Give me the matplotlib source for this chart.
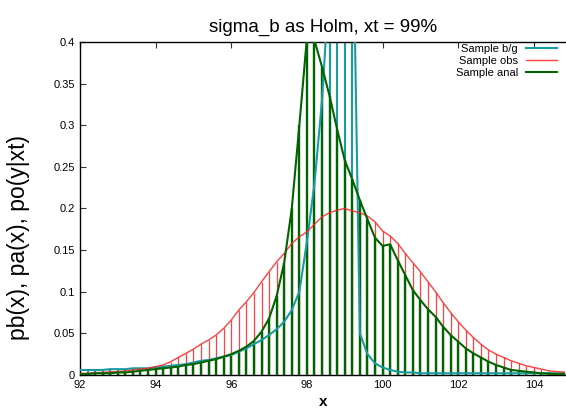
import numpy as np
import matplotlib
matplotlib.use("Agg")
import matplotlib.pyplot as plt

# x grid (step 0.2 from 92 to 104.8)
x = np.round(np.arange(92.0, 104.81, 0.2), 1)

# Sample b/g
bg = [0.006, 0.006, 0.006, 0.006, 0.007, 0.007, 0.007, 0.008, 0.008, 0.008,
      0.009, 0.010, 0.011, 0.012, 0.013, 0.015, 0.017, 0.018, 0.020, 0.022,
      0.024, 0.028, 0.032, 0.037, 0.042, 0.048, 0.055, 0.064, 0.078, 0.100,
      0.160, 0.230, 0.330, 0.480, 0.620, 0.700, 0.600, 0.050, 0.025, 0.014,
      0.009, 0.006, 0.004, 0.003, 0.003, 0.002, 0.002, 0.002, 0.002, 0.002,
      0.002, 0.002, 0.002, 0.002, 0.002, 0.002, 0.002, 0.002, 0.002, 0.002,
      0.002, 0.002, 0.002, 0.002, 0.002]

# Sample obs
obs = [0.002, 0.002, 0.003, 0.003, 0.004, 0.004, 0.005, 0.006, 0.007, 0.008,
       0.010, 0.012, 0.016, 0.021, 0.026, 0.031, 0.037, 0.042, 0.048, 0.056,
       0.066, 0.078, 0.088, 0.099, 0.112, 0.124, 0.136, 0.146, 0.158, 0.166,
       0.172, 0.181, 0.190, 0.195, 0.198, 0.200, 0.197, 0.195, 0.191, 0.184,
       0.173, 0.167, 0.158, 0.146, 0.135, 0.124, 0.112, 0.100, 0.087, 0.075,
       0.064, 0.054, 0.045, 0.037, 0.030, 0.025, 0.021, 0.017, 0.014, 0.011,
       0.009, 0.007, 0.005, 0.004, 0.0035]

# Sample anal
anal = [0.001, 0.001, 0.002, 0.002, 0.002, 0.003, 0.003, 0.004, 0.005, 0.006,
        0.007, 0.008, 0.009, 0.010, 0.012, 0.013, 0.015, 0.017, 0.019, 0.022,
        0.025, 0.029, 0.034, 0.041, 0.052, 0.068, 0.095, 0.135, 0.200, 0.300,
        0.405, 0.402, 0.370, 0.335, 0.295, 0.258, 0.235, 0.210, 0.187, 0.165,
        0.155, 0.157, 0.138, 0.120, 0.102, 0.090, 0.079, 0.070, 0.058, 0.048,
        0.040, 0.032, 0.026, 0.021, 0.016, 0.012, 0.009, 0.006, 0.005, 0.004,
        0.003, 0.002, 0.0015, 0.001, 0.001]

plt.rcParams['font.family'] = ['Liberation Sans', 'DejaVu Sans']

c_bg = '#1a9ba3'
c_obs = '#ff2020'
c_an = '#006400'

fig = plt.figure(figsize=(5.66, 4.08), dpi=100)
ax = fig.add_axes([0.1413, 0.081, 0.8587, 0.816])

# impulses
ax.vlines(x, 0, bg, colors=c_bg, linewidth=1.5, zorder=1)
ax.vlines(x, 0, obs, colors=c_obs, linewidth=0.9, alpha=0.85, zorder=2)
ax.vlines(x, 0, anal, colors=c_an, linewidth=1.7, zorder=3)

# lines
ax.plot(x, bg, color=c_bg, linewidth=1.5, label='Sample b/g', zorder=4)
ax.plot(x, obs, color=c_obs, linewidth=1.0, alpha=0.85, label='Sample obs', zorder=5)
ax.plot(x, anal, color=c_an, linewidth=1.5, label='Sample anal', zorder=6)

ax.set_xlim(92, 104.85)
ax.set_ylim(0, 0.4)
ax.set_xticks([92, 94, 96, 98, 100, 102, 104])
ax.set_yticks([0, 0.05, 0.1, 0.15, 0.2, 0.25, 0.3, 0.35, 0.4])
ax.set_yticklabels(['0', '0.05', '0.1', '0.15', '0.2', '0.25', '0.3', '0.35', '0.4'])
ax.tick_params(direction='in', length=4, width=0.8, labelsize=8, top=True,
               colors='#333333', labelcolor='black')
ax.spines['right'].set_visible(False)
for s in ['left', 'top', 'bottom']:
    ax.spines[s].set_linewidth(1.0)

ax.set_title('sigma_b as Holm, xt = 99%', fontsize=13.5, pad=7)
ax.set_xlabel('x', fontsize=11, fontweight='bold', labelpad=4)
ax.set_ylabel('pb(x), pa(x), po(y|xt)', fontsize=16.5)
ax.yaxis.set_label_coords(-0.103, 0.414)

ax.legend(loc='upper right', frameon=False, fontsize=8, markerfirst=False,
          handlelength=2.8, handletextpad=0.7, labelspacing=0.2,
          borderaxespad=0.2, bbox_to_anchor=(0.995, 1.015))

fig.savefig('out.png', dpi=100)
